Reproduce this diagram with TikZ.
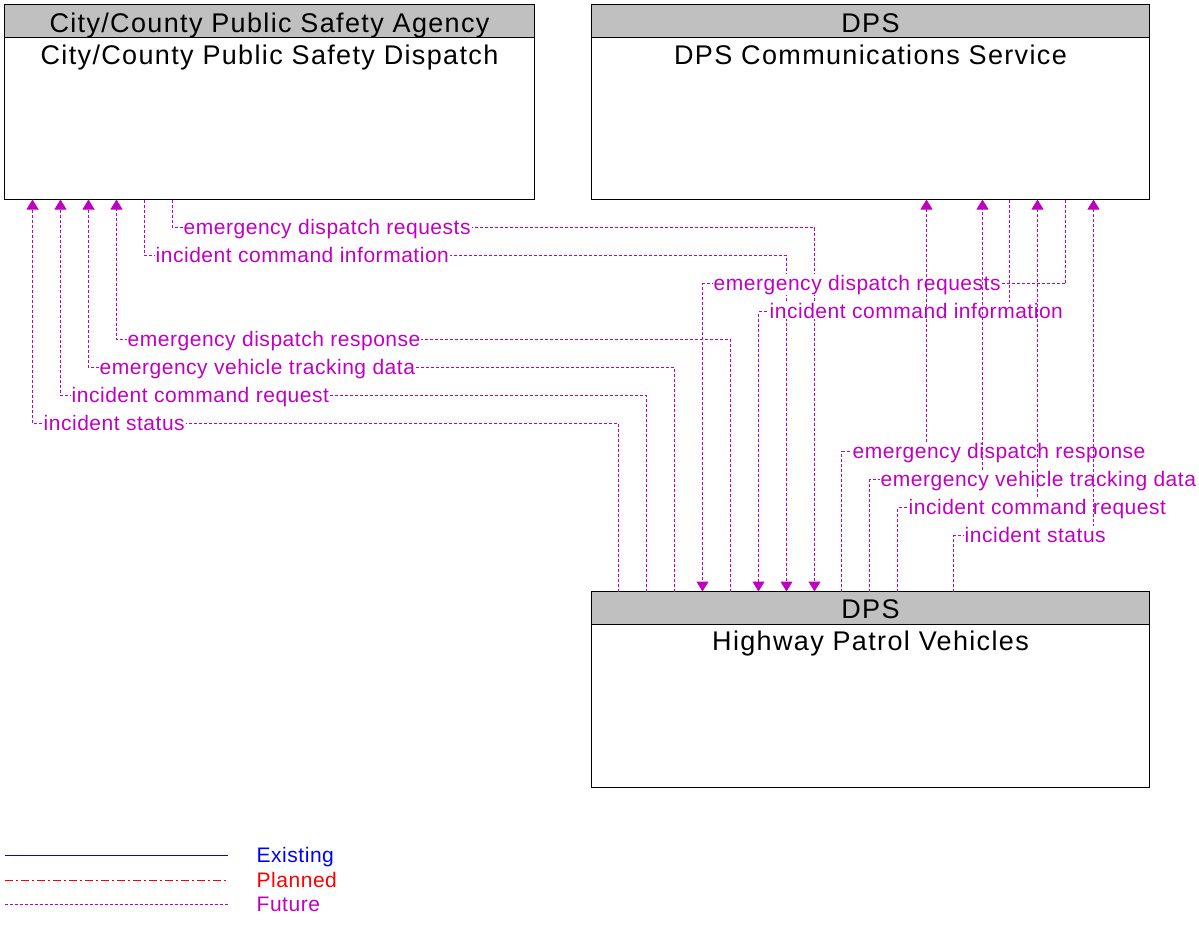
\documentclass[tikz,border=0pt]{standalone}
\usepackage{fontspec}
\setmainfont{Liberation Sans}
\newfontfamily\titlefont[LetterSpace=5]{Liberation Sans}
\newfontfamily\lblfont[LetterSpace=2.5]{Liberation Sans}
\usetikzlibrary{arrows.meta}
\definecolor{fut}{RGB}{192,0,192}
\definecolor{hdr}{RGB}{192,192,192}
\begin{document}
\begin{tikzpicture}[x=1pt,y=-1pt,
  box/.style={draw=black,line width=1pt,anchor=north west,inner sep=0pt,outer sep=0pt},
  hdrbox/.style={box,fill=hdr},
  ttl/.style={font=\titlefont\fontsize{27}{31}\selectfont,anchor=base,inner sep=0pt},
  flow/.style={draw=fut,line width=1pt,dash pattern=on 3pt off 2pt},
  arr/.style={-{Triangle[width=12pt,length=10pt,fill=fut,color=fut]}},
  lbl/.style={font=\lblfont\fontsize{21}{24}\selectfont,text=fut,fill=white,anchor=base west,inner sep=1pt},
  leg/.style={font=\lblfont\fontsize{21}{24}\selectfont,anchor=base west,inner sep=0pt},
]
\useasboundingbox (0,0) rectangle (1199,931);
\begin{scope}[shift={(0.5,0.5)}]
% boxes
\node[box,minimum width=530pt,minimum height=195pt] (b1) at (4,4) {};
\node[hdrbox,minimum width=530pt,minimum height=33pt] (h1) at (4,4) {};
\node[ttl] (h1t) at (269,32) {City/County Public Safety Agency};
\node[ttl] (b1t) at (269,64) {City/County Public Safety Dispatch};

\node[box,minimum width=558pt,minimum height=195pt] (b2) at (591,4) {};
\node[hdrbox,minimum width=558pt,minimum height=33pt] (h2) at (591,4) {};
\node[ttl] (h2t) at (870,32) {DPS};
\node[ttl] (b2t) at (870,64) {DPS Communications Service};

\node[box,minimum width=558pt,minimum height=196pt] (b3) at (591,591) {};
\node[hdrbox,minimum width=558pt,minimum height=33pt] (h3) at (591,591) {};
\node[ttl] (h3t) at (870,618) {DPS};
\node[ttl] (b3t) at (870,650) {Highway Patrol Vehicles};

% City/County <-> Highway Patrol
\draw[flow,arr] (172,0 |- b1.south) |- (814,227) -- (814,0 |- b3.north);
\node[lbl] (l1) at (182,233.5) {emergency dispatch requests};
\draw[flow,arr] (144,0 |- b1.south) |- (786,255) -- (786,0 |- b3.north);
\node[lbl] (l2) at (154,261.5) {incident command information};
\draw[flow,arr] (730,0 |- b3.north) |- (116,339) -- (116,0 |- b1.south);
\node[lbl] (l3) at (126,345.5) {emergency dispatch response};
\draw[flow,arr] (674,0 |- b3.north) |- (88,367) -- (88,0 |- b1.south);
\node[lbl] (l4) at (98,373.5) {emergency vehicle tracking data};
\draw[flow,arr] (646,0 |- b3.north) |- (60,395) -- (60,0 |- b1.south);
\node[lbl] (l5) at (70,401.5) {incident command request};
\draw[flow,arr] (618,0 |- b3.north) |- (32,423) -- (32,0 |- b1.south);
\node[lbl] (l6) at (42,429.5) {incident status};

% DPS Comm <-> Highway Patrol
\draw[flow,arr] (1065,0 |- b2.south) |- (702,283) -- (702,0 |- b3.north);
\node[lbl] (l7) at (712,289.5) {emergency dispatch requests};
\draw[flow,arr] (1009,0 |- b2.south) |- (758,311) -- (758,0 |- b3.north);
\node[lbl] (l8) at (768,317.5) {incident command information};
\draw[flow,arr] (841,0 |- b3.north) |- (926,451) -- (926,0 |- b2.south);
\node[lbl] (l9) at (851,457.5) {emergency dispatch response};
\draw[flow,arr] (869,0 |- b3.north) |- (982,479) -- (982,0 |- b2.south);
\node[lbl] (l10) at (879,485.5) {emergency vehicle tracking data};
\draw[flow,arr] (897,0 |- b3.north) |- (1037,507) -- (1037,0 |- b2.south);
\node[lbl] (l11) at (907,513.5) {incident command request};
\draw[flow,arr] (953,0 |- b3.north) |- (1093,535) -- (1093,0 |- b2.south);
\node[lbl] (l12) at (963,541.5) {incident status};

% legend
\coordinate (e1) at (4,855); \coordinate (e2) at (227,855);
\coordinate (p1) at (4,880); \coordinate (p2) at (227,880);
\coordinate (f1) at (4,904); \coordinate (f2) at (227,904);
\draw[blue,line width=1pt] (e1) -- (e2);
\draw[red,line width=1pt,dash pattern=on 8pt off 3pt on 2pt off 3pt] (p1) -- (p2);
\draw[flow] (f1) -- (f2);
\node[leg,text=blue] (te) at (256,862) {Existing};
\node[leg,text=red] (tp) at (256,887) {Planned};
\node[leg,text=fut] (tf) at (256,911) {Future};
\end{scope}
\end{tikzpicture}
\end{document}
